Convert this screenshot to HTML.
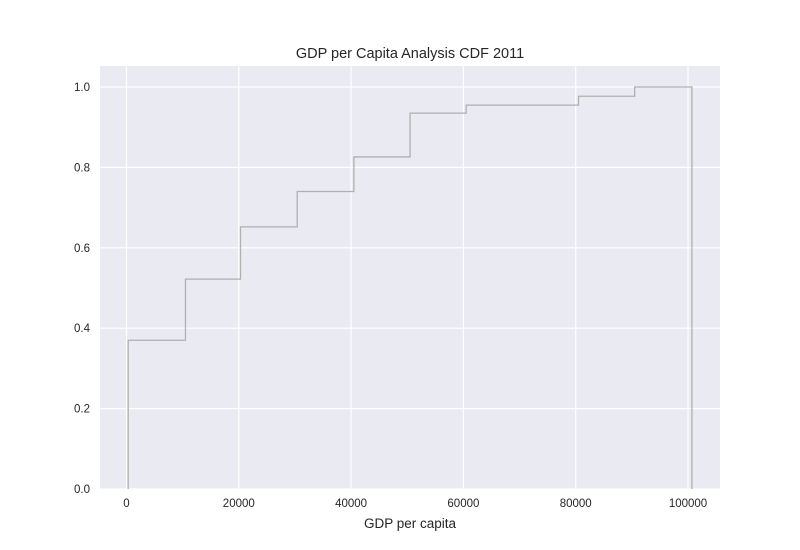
<!DOCTYPE html>
<html><head><meta charset="utf-8"><style>body{margin:0;background:#fff}svg{display:block;font-family:"Liberation Sans",sans-serif}</style></head>
<body>
<svg id="chart" width="800" height="550" viewBox="0 0 800 550">
<rect x="100" y="66" width="620" height="423" fill="#eaeaf2"/>
<g id="grid"></g><g id="ticks"></g>
<path id="cdf" fill="none" stroke="#b0b0b0" stroke-width="1.3"/>
<text x="410" y="58" text-anchor="middle" font-size="14.5" fill="#262626">GDP per Capita Analysis CDF 2011</text>
<text x="410" y="528" text-anchor="middle" font-size="13.5" fill="#262626">GDP per capita</text>
</svg>
<script>
const edges=[300,10500,20300,30400,40500,50500,60500,80500,90500,100700];
const cdfValues=[0.37,0.522,0.652,0.74,0.826,0.935,0.955,0.977,1.0];
const xTicks=[0,20000,40000,60000,80000,100000];
const yTicks=[0,0.2,0.4,0.6,0.8,1.0];
const X=v=>126.5+v*561.5/100000, Y=v=>489-v*402;
const ns="http://www.w3.org/2000/svg";
const g=document.getElementById('grid'),t=document.getElementById('ticks');
function mk(tag,a,p){const e=document.createElementNS(ns,tag);for(const k in a)e.setAttribute(k,a[k]);p.appendChild(e);return e;}
xTicks.forEach(v=>{const l=mk('line',{x1:X(v),x2:X(v),y1:66,y2:489,stroke:'#fff','stroke-width':1.2},g);


const s=mk('text',{x:X(v),y:507,'text-anchor':'middle','font-size':11.5,fill:'#262626'},t);s.textContent=v;

});
yTicks.forEach(v=>{const l=mk('line',{x1:100,x2:720,y1:Y(v),y2:Y(v),stroke:'#fff','stroke-width':1.2},g);


const s=mk('text',{x:90,y:Y(v)+4,'text-anchor':'end','font-size':11.5,fill:'#262626'},t);s.textContent=v.toFixed(1);

});
let d=`M${X(edges[0])},${Y(0)}`;
cdfValues.forEach((v,i)=>{d+=` L${X(edges[i])},${Y(v)} L${X(edges[i+1])},${Y(v)}`;});
d+=` L${X(edges[edges.length-1])},${Y(0)}`;
document.getElementById('cdf').setAttribute('d',d);
</script>
</body></html>
